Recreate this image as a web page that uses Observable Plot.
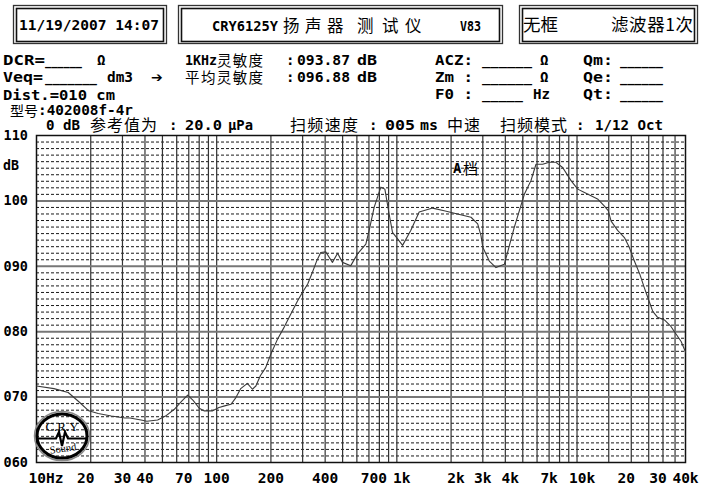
<!DOCTYPE html>
<html><head><meta charset="utf-8">
<script src="https://cdn.jsdelivr.net/npm/d3@7"></script>
<script src="https://cdn.jsdelivr.net/npm/@observablehq/plot@0.6"></script>
<style>
html,body{margin:0;padding:0;background:#fff;}
#wrap{position:relative;width:705px;height:499px;overflow:hidden;background:#fff;}
#wrap svg{position:absolute;left:0;top:0;}
</style></head><body><div id="wrap"></div>
<script>
// ---- data ----
const freqHz = [10, 12.5, 15, 17, 19.5, 22, 26, 31, 33, 38, 41, 47, 52, 58, 64, 69, 74, 80, 85, 95,
  103, 112, 120, 127, 136, 148, 158, 165, 175, 187, 200, 218, 237, 258, 281, 299, 320, 340, 360, 378,
  403, 439, 469, 499, 555, 605, 673, 702, 748, 815, 858, 906, 946, 1010, 1076, 1196, 1330, 1580, 1830, 2170,
  2580, 2810, 2930, 3000, 3260, 3550, 3950, 4480, 5100, 5550, 5920, 6450, 7000, 7640, 8320, 9260, 10090, 11000, 11960, 13000,
  14190, 14900, 15460, 16800, 18320, 19500, 20810, 22300, 23650, 25100, 26330, 28000, 30550, 33000, 34740, 37840, 40000];
const splDb = [71.7, 71.3, 70.7, 69.4, 67.9, 67.5, 67.1, 66.8, 66.8, 66.5, 66.3, 66.5, 67.1, 68.1, 69.4, 70.3, 69.5, 68.3, 67.9, 67.9,
  68.4, 68.7, 68.9, 69.8, 71.3, 72.1, 71.2, 71.7, 73.3, 74.5, 76.6, 78.9, 80.7, 82.7, 84.7, 86.0, 87.3, 89.1, 90.9, 92.1,
  92.2, 90.6, 92.0, 90.6, 90.1, 91.9, 93.4, 95.5, 99.0, 102.1, 101.8, 98.0, 95.2, 94.2, 93.2, 95.5, 98.3, 98.9, 98.5, 98.0,
  97.5, 96.5, 94.7, 92.9, 90.8, 89.8, 90.3, 95.9, 101.0, 103.1, 105.6, 105.6, 105.9, 105.9, 105.1, 103.1, 101.8, 101.3, 100.8, 100.3,
  99.2, 98.5, 96.9, 95.5, 94.4, 92.9, 90.8, 88.8, 86.7, 84.7, 83.1, 82.2, 81.8, 80.9, 80.0, 78.5, 76.9];

const gridFreqs = [20, 30, 40, 50, 60, 70, 80, 90, 100, 200, 300, 400, 500, 600, 700, 800, 900, 1000,
  2000, 3000, 4000, 5000, 6000, 7000, 8000, 9000, 10000, 15000, 20000, 25000, 30000, 35000];
// tick labels, grouped by how the original software nudged them
const xTickValues = [30, 40, 100, 200, 400, 3000, 7000, 40000];
const xTickLabels = ["30", "40", "100", "200", "400", "3k", "7k", "40k"];
const xTickValuesL = [20, 70, 20000, 30000];
const xTickLabelsL = ["20", "70", "20", "30"];
const xTickValuesR = [700, 1000, 2000, 4000, 10000];
const xTickLabelsR = ["700", "1k", "2k", "4k", "10k"];
const xFirstTick = [10];
const xFirstLabel = ["10Hz"];
const yTickValues = [60, 70, 80, 90, 100, 110];
const yTickLabels = ["060", "070", "080", "090", "100", "110"];
const majorDb = [70, 80, 90, 100];
const minorDb = d3.range(61, 110).filter(v => v % 10 !== 0);

const data = freqHz.map((f, i) => ({f, db: splDb[i]}));
const pair = (vals, labs) => vals.map((v, i) => ({v, label: labs[i]}));
const xTicks = pair(xTickValues, xTickLabels);
const xTicksL = pair(xTickValuesL, xTickLabelsL);
const xTicksR = pair(xTickValuesR, xTickLabelsR);
const yTicks = pair(yTickValues, yTickLabels);

const MONO = "'DejaVu Sans Mono', monospace";
const CJK = "'Noto Sans CJK SC', sans-serif";
const xLabelStyle = {x: "v", text: "label", frameAnchor: "bottom", lineAnchor: "top", dy: 10, fontSize: 14.5, fontWeight: "bold", fill: "#000"};

const chart = Plot.plot({
  width: 705, height: 499,
  marginLeft: 36, marginRight: 20, marginTop: 135, marginBottom: 37,
  style: {background: "transparent", fontFamily: MONO, fontWeight: "bold", fontSize: "14px", color: "#000"},
  x: {type: "log", domain: [10, 40000], label: null, axis: null},
  y: {domain: [60, 110], label: null, axis: null},
  marks: [
    Plot.ruleY(minorDb, {stroke: "#1a1a1a", strokeWidth: 1, strokeDasharray: "3,2"}),
    Plot.ruleX(gridFreqs, {stroke: "#333", strokeWidth: 1.2}),
    Plot.ruleY(majorDb, {stroke: "#777", strokeWidth: 2}),
    Plot.frame({stroke: "#111", strokeWidth: 1.5}),
    Plot.line(data, {x: "f", y: "db", stroke: "#3a3a3a", strokeWidth: 1.1}),
    Plot.text(xTicks, xLabelStyle),
    Plot.text(xTicksL, {...xLabelStyle, dx: -5}),
    Plot.text(xTicksR, {...xLabelStyle, dx: 5}),
    Plot.text(xFirstTick, {...xLabelStyle, x: d => d, text: () => xFirstLabel[0], textAnchor: "start", dx: -8}),
    Plot.text(yTicks, {y: "v", text: "label", frameAnchor: "left", textAnchor: "start", dx: -33, fontSize: 13.5, fontWeight: "bold", fill: "#000"})
  ]
});
const wrap = document.getElementById("wrap");
wrap.appendChild(chart);

// ---- header / annotation overlay ----
const NS = "http://www.w3.org/2000/svg";
const ov = document.createElementNS(NS, "svg");
ov.setAttribute("width", 705); ov.setAttribute("height", 499);
ov.style.pointerEvents = "none";
function T(x, y, s, o = {}) {
  const t = document.createElementNS(NS, "text");
  t.setAttribute("x", x); t.setAttribute("y", y);
  t.textContent = s;
  t.setAttribute("font-family", o.fam || (o.cjk ? CJK : MONO));
  t.setAttribute("font-size", o.size || (o.cjk ? 14.5 : 14));
  t.setAttribute("font-weight", o.w || (o.cjk ? "normal" : "bold"));
  t.setAttribute("fill", "#000");
  if (o.len) { t.setAttribute("textLength", o.len); t.setAttribute("lengthAdjust", o.cjk ? "spacing" : "spacingAndGlyphs"); }
  if (o.anchor) t.setAttribute("text-anchor", o.anchor);
  if (o.tr) t.setAttribute("transform", o.tr);
  ov.appendChild(t);
  return t;
}
function R(x, y, w, h, sw, col) {
  const r = document.createElementNS(NS, "rect");
  r.setAttribute("x", x); r.setAttribute("y", y); r.setAttribute("width", w); r.setAttribute("height", h);
  r.setAttribute("fill", "none"); r.setAttribute("stroke", col); r.setAttribute("stroke-width", sw);
  ov.appendChild(r);
}
function box(x1, y1, x2, y2) {
  R(x1 + 0.5, y1 + 0.5, x2 - x1, y2 - y1, 1.3, "#333");
  R(x1 + 3.5, y1 + 3.5, x2 - x1 - 6, y2 - y1 - 5, 1.6, "#111");
}
box(13, 5, 166, 43);
box(178, 5, 502, 43);
box(519, 5, 697, 43);

// box texts
T(19, 30, "11/19/2007 14:07", {size: 14, len: 140});
T(212, 31, "CRY6125Y", {size: 13.5, len: 66});
[["扬", 283], ["声", 305], ["器", 327], ["测", 357], ["试", 382], ["仪", 405]].forEach(([c, x]) => T(x, 31.5, c, {cjk: true, size: 16.5}));
T(460, 31, "V83", {size: 13.5, len: 21});
T(523, 30.5, "无框", {cjk: true, size: 17.5});
T(611, 30.5, "滤波器1次", {cjk: true, size: 17.5, len: 82});

// row 1
let y = 65;
T(3, y, "DCR=", {len: 42}); T(45, y, "______", {len: 37}); T(97, y, "Ω");
T(185, y, "1KHz", {len: 32}); T(217, y + 0.5, "灵敏度", {cjk: true, len: 46});
T(286, y, ":"); T(297, y, "093.87", {len: 53}); T(357, y, "dB", {len: 20});
T(435, y, "ACZ:", {len: 38}); T(482, y, "______", {len: 50}); T(540, y, "Ω");
T(583, y, "Qm:", {len: 30}); T(620, y, "______", {len: 43});
// row 2
y = 82;
T(3, y, "Veq=", {len: 40}); T(45, y, "_______", {len: 52}); T(107, y, "dm3", {len: 26});
T(151, y, "➔", {fam: "'DejaVu Sans', sans-serif", size: 14, w: "normal"});
T(185, y + 0.5, "平均灵敏度", {cjk: true, len: 78});
T(286, y, ":"); T(297, y, "096.88", {len: 53}); T(357, y, "dB", {len: 20});
T(435, y, "Zm :", {len: 38}); T(482, y, "______", {len: 50}); T(540, y, "Ω");
T(583, y, "Qe:", {len: 30}); T(620, y, "______", {len: 43});
// row 3
y = 99;
T(3, y + 1, "Dist.=010 cm", {len: 112});
T(435, y, "F0 :", {len: 38}); T(482, y, "_____", {len: 41}); T(533, y, "Hz", {len: 17});
T(583, y, "Qt:", {len: 30}); T(620, y, "______", {len: 43});
// row 4
T(10, 116, "型号", {cjk: true, size: 14, len: 28});
T(38, 115, ":402008f-4r", {len: 95});
// row 5
y = 130;
T(46, y, "0 dB", {len: 34});
T(90, y + 0.5, "参考值为", {cjk: true, size: 16, len: 67});
T(169, y, ":"); T(185, y, "20.0", {len: 37}); T(228, y, "μPa", {len: 25});
T(290, y + 0.5, "扫频速度", {cjk: true, size: 16, len: 68});
T(369, y, ":"); T(385, y, "005", {len: 30}); T(420, y, "ms", {len: 18});
T(447, y + 0.5, "中速", {cjk: true, size: 16, len: 33});
T(500, y + 0.5, "扫频模式", {cjk: true, size: 16, len: 67});
T(576, y, ":"); T(595, y, "1/12 Oct", {len: 68});

// axis unit + annotation
T(3, 170, "dB", {size: 13.5, len: 16});
T(453, 173, "A", {size: 14});
T(463, 174, "档", {cjk: true, size: 15});

// logo
function E(cx, cy, rx, ry, sw, col) {
  const e = document.createElementNS(NS, "ellipse");
  e.setAttribute("cx", cx); e.setAttribute("cy", cy); e.setAttribute("rx", rx); e.setAttribute("ry", ry);
  e.setAttribute("fill", "none"); e.setAttribute("stroke", col); e.setAttribute("stroke-width", sw);
  ov.appendChild(e);
}
E(62, 436, 27.5, 24.5, 1.5, "#888");
E(62, 436, 25, 22, 3, "#000");
T(62, 431, "C.R.Y", {fam: "'Liberation Serif', serif", size: 13, w: "normal", anchor: "middle"});
const ln = document.createElementNS(NS, "path");
ln.setAttribute("d", "M38,438.5 H56 L59,432 L62,446 L65,432 L68,438.5 H86");
ln.setAttribute("stroke", "#000"); ln.setAttribute("stroke-width", 2.2); ln.setAttribute("fill", "none");
ov.appendChild(ln);
T(63, 452, "Sound", {fam: "'Liberation Serif', serif", size: 10.5, w: "normal", anchor: "middle", tr: "rotate(-8 63 449)"});

wrap.appendChild(ov);
</script>
</body></html>
